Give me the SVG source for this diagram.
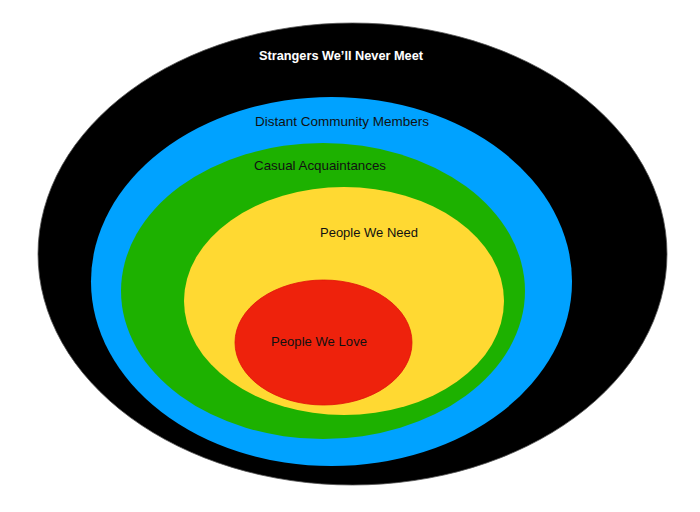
<svg xmlns="http://www.w3.org/2000/svg" width="700" height="512" viewBox="0 0 700 512">
<style>
  .lbl { font-family: "Liberation Sans", Arial, sans-serif; font-size: 13px; fill: #111; }
  .lbl-w { font-family: "Liberation Sans", Arial, sans-serif; font-size: 13.5px; font-weight: bold; fill: #fff; stroke: #333; stroke-width: 0.4px; paint-order: stroke; }
</style>
<rect width="700" height="512" fill="#ffffff"/>
<g id="strangers">
  <ellipse cx="352.5" cy="254" rx="314.5" ry="231" fill="#000000" stroke="#555" stroke-width="0.8"/>
  <text class="lbl-w" x="259" y="60" textLength="164" lengthAdjust="spacingAndGlyphs">Strangers We’ll Never Meet</text>
</g>
<g id="distant">
  <ellipse cx="331.5" cy="281.5" rx="240.5" ry="184.5" fill="#00A2FF"/>
  <text class="lbl" x="255" y="126" textLength="174" lengthAdjust="spacingAndGlyphs">Distant Community Members</text>
</g>
<g id="casual">
  <ellipse cx="323" cy="291" rx="202" ry="148" fill="#1DB100"/>
  <text class="lbl" x="254" y="170" textLength="132" lengthAdjust="spacingAndGlyphs">Casual Acquaintances</text>
</g>
<g id="need">
  <ellipse cx="344" cy="301" rx="160" ry="114" fill="#FFD932"/>
  <text class="lbl" x="320" y="237" textLength="98" lengthAdjust="spacingAndGlyphs">People We Need</text>
</g>
<g id="love">
  <ellipse cx="323.5" cy="342.5" rx="88.5" ry="62.5" fill="#EE220C" stroke="#E0120A" stroke-width="0.8"/>
  <text class="lbl" x="271" y="346" textLength="96" lengthAdjust="spacingAndGlyphs">People We Love</text>
</g>
<g id="connectors"/>
</svg>
